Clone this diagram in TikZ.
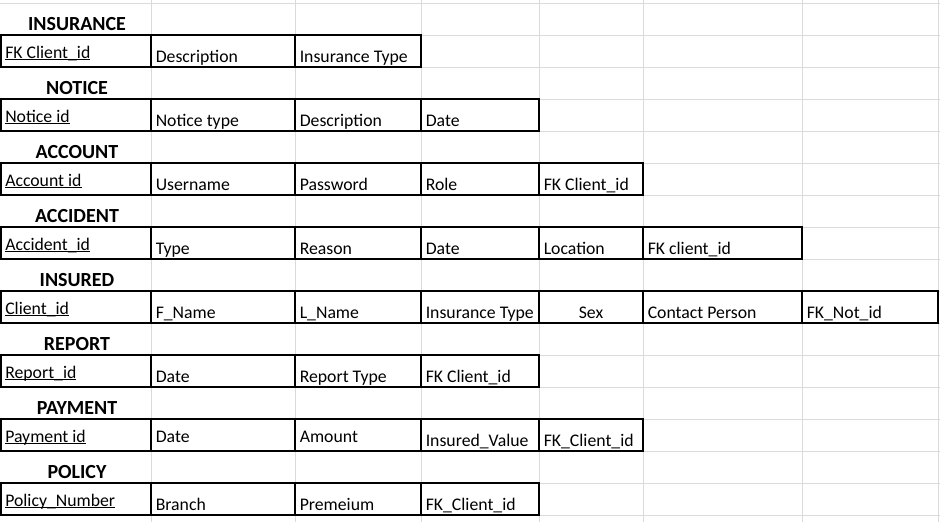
\documentclass[tikz,border=0pt]{standalone}
\usepackage{fontspec}
\setmainfont{Carlito}
\definecolor{gridgray}{HTML}{DADADA}
\newcommand\ulk[1]{\setbox0=\hbox{#1}\rlap{\rule[-1.2pt]{\wd0}{0.75pt}}\box0}
\tikzset{
  gridline/.style={draw=gridgray, line width=0.75pt},
  tbl/.style={draw=black, line width=1.5pt},
  title/.style={anchor=base, inner sep=0pt, font=\fontsize{15}{18}\selectfont\bfseries},
  cellb/.style={anchor=base west, inner sep=0pt, font=\fontsize{13.3}{16}\selectfont},
  cellc/.style={anchor=base, inner sep=0pt, font=\fontsize{13.3}{16}\selectfont},
}
\begin{document}
\begin{tikzpicture}[x=0.75pt, y=-0.75pt]
\useasboundingbox (0,0) rectangle (940,522);
% spreadsheet grid
\foreach \y in {3,35,...,515} \draw[gridline] (0,\y) -- (940,\y);
\foreach \x in {151,295,421,539,643,802,938} \draw[gridline] (\x,0) -- (\x,522);

% INSURANCE
\draw[tbl] (1,35) rectangle (421,67) (151,35) -- (151,67) (295,35) -- (295,67);
\node[title] (tinsurance) at (77,30) {INSURANCE};
\node[cellb] (insurance1) at (5,58) {\ulk{FK Client\_id}};
\node[cellb] (insurance2) at (155.5,62) {Description};
\node[cellb] (insurance3) at (299.5,62) {Insurance Type};

% NOTICE
\draw[tbl] (1,99) rectangle (539,131) (151,99) -- (151,131) (295,99) -- (295,131) (421,99) -- (421,131);
\node[title] (tnotice) at (77,94) {NOTICE};
\node[cellb] (notice1) at (5,122) {\ulk{Notice id}};
\node[cellb] (notice2) at (155.5,126) {Notice type};
\node[cellb] (notice3) at (299.5,126) {Description};
\node[cellb] (notice4) at (425.5,126) {Date};

% ACCOUNT
\draw[tbl] (1,163) rectangle (643,195) (151,163) -- (151,195) (295,163) -- (295,195) (421,163) -- (421,195) (539,163) -- (539,195);
\node[title] (taccount) at (77,158) {ACCOUNT};
\node[cellb] (account1) at (5,186) {\ulk{Account id}};
\node[cellb] (account2) at (155.5,190) {Username};
\node[cellb] (account3) at (299.5,190) {Password};
\node[cellb] (account4) at (425.5,190) {Role};
\node[cellb] (account5) at (543.5,190) {FK Client\_id};

% ACCIDENT
\draw[tbl] (1,227) rectangle (802,259) (151,227) -- (151,259) (295,227) -- (295,259) (421,227) -- (421,259) (539,227) -- (539,259) (643,227) -- (643,259);
\node[title] (taccident) at (77,222) {ACCIDENT};
\node[cellb] (accident1) at (5,250) {\ulk{Accident\_id}};
\node[cellb] (accident2) at (155.5,254) {Type};
\node[cellb] (accident3) at (299.5,254) {Reason};
\node[cellb] (accident4) at (425.5,254) {Date};
\node[cellb] (accident5) at (543.5,254) {Location};
\node[cellb] (accident6) at (647.5,254) {FK client\_id};

% INSURED
\draw[tbl] (1,291) rectangle (938,323) (151,291) -- (151,323) (295,291) -- (295,323) (421,291) -- (421,323) (539,291) -- (539,323) (643,291) -- (643,323) (802,291) -- (802,323);
\node[title] (tinsured) at (77,286) {INSURED};
\node[cellb] (insured1) at (5,314) {\ulk{Client\_id}};
\node[cellb] (insured2) at (155.5,318) {F\_Name};
\node[cellb] (insured3) at (299.5,318) {L\_Name};
\node[cellb] (insured4) at (425.5,318) {Insurance Type};
\node[cellc] (insured5) at (591,318) {Sex};
\node[cellb] (insured6) at (647.5,318) {Contact Person};
\node[cellb] (insured7) at (806.5,318) {FK\_Not\_id};

% REPORT
\draw[tbl] (1,355) rectangle (539,387) (151,355) -- (151,387) (295,355) -- (295,387) (421,355) -- (421,387);
\node[title] (treport) at (77,350) {REPORT};
\node[cellb] (report1) at (5,378) {\ulk{Report\_id}};
\node[cellb] (report2) at (155.5,382) {Date};
\node[cellb] (report3) at (299.5,382) {Report Type};
\node[cellb] (report4) at (425.5,382) {FK Client\_id};

% PAYMENT
\draw[tbl] (1,419) rectangle (643,451) (151,419) -- (151,451) (295,419) -- (295,451) (421,419) -- (421,451) (539,419) -- (539,451);
\node[title] (tpayment) at (77,414) {PAYMENT};
\node[cellb] (payment1) at (5,442) {\ulk{Payment id}};
\node[cellb] (payment2) at (155.5,442) {Date};
\node[cellb] (payment3) at (299.5,442) {Amount};
\node[cellb] (payment4) at (425.5,446) {Insured\_Value};
\node[cellb] (payment5) at (543.5,446) {FK\_Client\_id};

% POLICY
\draw[tbl] (1,483) rectangle (539,515) (151,483) -- (151,515) (295,483) -- (295,515) (421,483) -- (421,515);
\node[title] (tpolicy) at (77,478) {POLICY};
\node[cellb] (policy1) at (5,506) {\ulk{Policy\_Number}};
\node[cellb] (policy2) at (155.5,510) {Branch};
\node[cellb] (policy3) at (299.5,510) {Premeium};
\node[cellb] (policy4) at (425.5,510) {FK\_Client\_id};
\end{tikzpicture}
\end{document}
